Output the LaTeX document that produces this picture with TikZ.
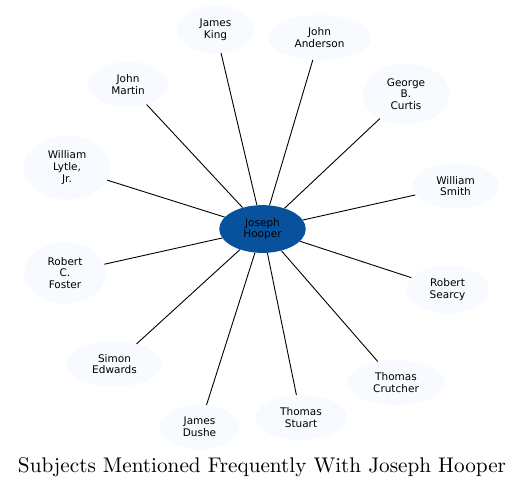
\documentclass[tikz,border=0pt]{standalone}
\usepackage{fontspec}
\newfontfamily\labelfont{DejaVu Sans}
\usetikzlibrary{shapes.geometric}

\definecolor{hubblue}{HTML}{08519C}
\definecolor{paleblue}{HTML}{F7FBFF}

\tikzset{
  subject/.style={ellipse, fill=paleblue, inner xsep=11.5pt, inner ysep=6pt, align=center,
    font=\labelfont\fontsize{10.5}{11.6}\selectfont},
  hub/.style={subject, fill=hubblue},
  link/.style={draw=black, line width=0.9pt}
}

\begin{document}
\begin{tikzpicture}[x=1pt, y=-1pt]
  \useasboundingbox (0,0) rectangle (529,488);
  \node (hooper) [hub] at (262.5,229) {Joseph\\Hooper};
  \node (king) [subject] at (215.5,29.5) {James\\King};
  \node (anderson) [subject] at (319.5,37.5) {John\\Anderson};
  \node (martin) [subject] at (128,84.5) {John\\Martin};
  \node (curtis) [subject] at (406,94) {George\\B.\\Curtis};
  \node (lytle) [subject] at (67,167.5) {William\\Lytle,\\Jr.};
  \node (smith) [subject] at (455.5,186) {William\\Smith};
  \node (foster) [subject] at (65,273) {Robert\\C.\\Foster};
  \node (searcy) [subject] at (447.5,289.5) {Robert\\Searcy};
  \node (edwards) [subject] at (114.5,364) {Simon\\Edwards};
  \node (crutcher) [subject] at (396,382.5) {Thomas\\Crutcher};
  \node (dushe) [subject] at (199.5,427) {James\\Dushe};
  \node (stuart) [subject] at (301,417.5) {Thomas\\Stuart};
  \foreach \other in {king, anderson, martin, curtis, lytle, smith, foster, searcy, edwards, crutcher, dushe, stuart}
    \draw [link] (hooper) -- (\other);
  \node (title) [anchor=base] at (262,472) {\scalebox{2.12}{Subjects Mentioned Frequently With Joseph Hooper}};
\end{tikzpicture}
\end{document}
